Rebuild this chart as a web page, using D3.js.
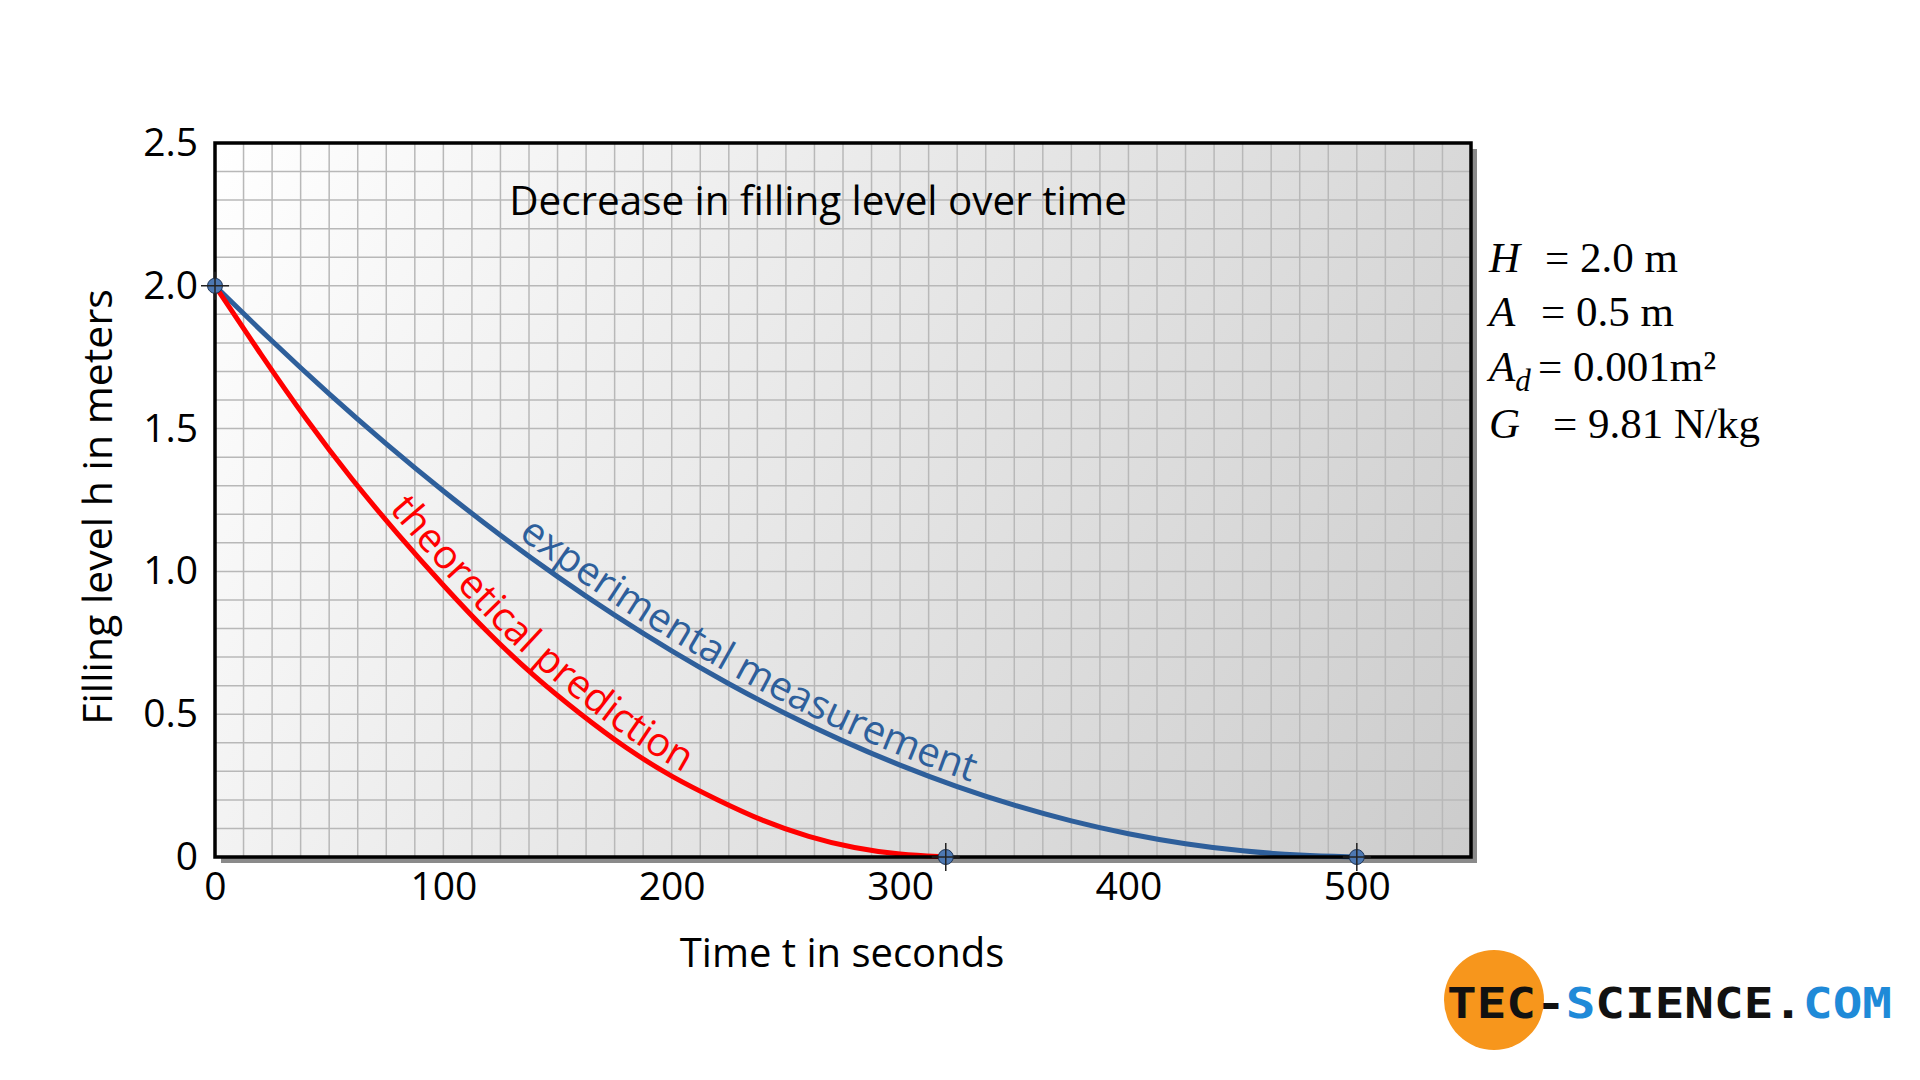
<!DOCTYPE html>
<html>
<head>
<meta charset="utf-8">
<script src="https://cdn.jsdelivr.net/npm/d3@7"></script>
<style>
  body { margin: 0; background: #fff; }
  svg { display: block; font-family: "Open Sans", sans-serif; }
</style>
</head>
<body>
<svg id="chart" width="1920" height="1080"></svg>
<script>
// values
const theoryTime = [0, 20, 40, 60, 80, 100, 120, 140, 160, 180, 200, 220, 240, 260, 280, 300, 320];
const theoryLevel = [2.0, 1.76, 1.53, 1.32, 1.13, 0.95, 0.78, 0.63, 0.5, 0.38, 0.28, 0.2, 0.125, 0.07, 0.03, 0.008, 0];

const measTime = [0, 25, 50, 75, 100, 125, 150, 175, 200, 225, 250, 275, 300, 325, 350, 375, 400, 425, 450, 475, 500];
const measLevel = [2.0, 1.805, 1.62, 1.445, 1.28, 1.125, 0.98, 0.845, 0.72, 0.605, 0.5, 0.405, 0.32, 0.245, 0.18, 0.125, 0.08, 0.045, 0.02, 0.005, 0];

const endTimes = [0, 320, 500];
const endLevels = [2.0, 0, 0];

const xTicks = [0, 100, 200, 300, 400, 500];
const yTicks = [0, 0.5, 1.0, 1.5, 2.0, 2.5];

const paramSymbols = ["H", "A", "A", "G"];
const paramSubs = ["", "", "d", ""];
const paramValues = ["= 2.0 m", "= 0.5 m", "= 0.001m²", "= 9.81 N/kg"];

const svg = d3.select("#chart");
const pLeft = 215, pRight = 1471, pTop = 143, pBottom = 857;

const x = d3.scaleLinear().domain([0, 550]).range([pLeft, pRight]);
const y = d3.scaleLinear().domain([0, 2.5]).range([pBottom, pTop]);

const defs = svg.append("defs");
const grad = defs.append("linearGradient")
  .attr("id", "bg")
  .attr("gradientUnits", "userSpaceOnUse")
  .attr("x1", pLeft).attr("y1", pTop)
  .attr("x2", pRight).attr("y2", pBottom);
grad.append("stop").attr("offset", 0).attr("stop-color", "#ffffff");
grad.append("stop").attr("offset", 1).attr("stop-color", "#cccccc");

// shadow + plot background
svg.append("rect")
  .attr("x", pLeft + 6).attr("y", pTop + 6)
  .attr("width", pRight - pLeft).attr("height", pBottom - pTop)
  .attr("fill", "#8a8a8a");
svg.append("rect")
  .attr("x", pLeft).attr("y", pTop)
  .attr("width", pRight - pLeft).attr("height", pBottom - pTop)
  .attr("fill", "url(#bg)");

// square grid
const grid = svg.append("g").attr("stroke", "#b8b8b8").attr("stroke-width", 1.5);
grid.selectAll("line.v")
  .data(d3.range(12.5, 550, 12.5))
  .join("line")
  .attr("class", "v")
  .attr("x1", d => x(d)).attr("x2", d => x(d))
  .attr("y1", pTop).attr("y2", pBottom);
grid.selectAll("line.h")
  .data(d3.range(1, 25).map(d => d / 10))
  .join("line")
  .attr("class", "h")
  .attr("y1", d => y(d)).attr("y2", d => y(d))
  .attr("x1", pLeft).attr("x2", pRight);

// curves
const line = d3.line()
  .x(d => x(d[0]))
  .y(d => y(d[1]))
  .curve(d3.curveBasis);

const theory = d3.zip(theoryTime, theoryLevel);
const meas = d3.zip(measTime, measLevel);

const measPath = svg.append("path")
  .attr("id", "measCurve")
  .attr("d", line(meas))
  .attr("fill", "none")
  .attr("stroke", "#2e5f9b")
  .attr("stroke-width", 5);

const theoryPath = svg.append("path")
  .attr("id", "theoryCurve")
  .attr("d", line(theory))
  .attr("fill", "none")
  .attr("stroke", "#ff0000")
  .attr("stroke-width", 5);

// frame
svg.append("rect")
  .attr("x", pLeft).attr("y", pTop)
  .attr("width", pRight - pLeft).attr("height", pBottom - pTop)
  .attr("fill", "none")
  .attr("stroke", "#000")
  .attr("stroke-width", 3.5);

// labels that follow the curves
function offsetAt(node, px) {
  const len = node.getTotalLength();
  for (let l = 0; l < len; l += 0.5) {
    if (node.getPointAtLength(l).x >= px) return l;
  }
  return 0;
}

svg.append("text")
  .attr("font-size", 40)
  .attr("fill", "#ff0000")
  .attr("dy", -9)
  .append("textPath")
  .attr("href", "#theoryCurve")
  .attr("startOffset", offsetAt(theoryPath.node(), x(73)))
  .text("theoretical prediction");

svg.append("text")
  .attr("font-size", 40)
  .attr("fill", "#2e5f9b")
  .attr("dy", -9)
  .append("textPath")
  .attr("href", "#measCurve")
  .attr("startOffset", offsetAt(measPath.node(), x(130)))
  .text("experimental measurement");

// end point markers
const marks = svg.append("g")
  .selectAll("g")
  .data(d3.zip(endTimes, endLevels))
  .join("g")
  .attr("transform", d => `translate(${x(d[0])},${y(d[1])})`);
marks.append("circle")
  .attr("r", 7.5)
  .attr("fill", "#4d78b2")
  .attr("stroke", "#1d3557")
  .attr("stroke-width", 1);
marks.append("path")
  .attr("d", "M-14,0H14M0,-14V14")
  .attr("stroke", "#222")
  .attr("stroke-width", 1.5);

// axes
const xAxis = svg.append("g")
  .attr("transform", `translate(0,${pBottom})`)
  .call(d3.axisBottom(x).tickValues(xTicks).tickSize(0));
xAxis.select(".domain").remove();
xAxis.selectAll("text")
  .attr("y", 43)
  .attr("dy", null)
  .attr("font-size", 39)
  .attr("font-family", "Open Sans")
  .attr("fill", "#000");

const yAxis = svg.append("g")
  .attr("transform", `translate(${pLeft},0)`)
  .call(d3.axisLeft(y).tickValues(yTicks).tickSize(0).tickPadding(17)
    .tickFormat(d => d === 0 ? "0" : d.toFixed(1)));
yAxis.select(".domain").remove();
yAxis.selectAll("text")
  .attr("font-size", 39)
  .attr("font-family", "Open Sans")
  .attr("fill", "#000");

// titles
svg.append("text")
  .attr("x", 818).attr("y", 215)
  .attr("text-anchor", "middle")
  .attr("font-size", 40.4)
  .text("Decrease in filling level over time");

svg.append("text")
  .attr("x", 842).attr("y", 967)
  .attr("text-anchor", "middle")
  .attr("font-size", 40)
  .text("Time t in seconds");

svg.append("text")
  .attr("transform", "translate(112,507) rotate(-90)")
  .attr("text-anchor", "middle")
  .attr("font-size", 41)
  .text("Filling level h in meters");

// parameters
const baselines = [272, 326, 381, 438];
const eqX = [1545, 1541, 1538, 1553];
const params = svg.append("g")
  .attr("font-family", "Liberation Serif, serif")
  .attr("font-size", 43)
  .attr("fill", "#000");
paramSymbols.forEach((s, i) => {
  const t = params.append("text")
    .attr("x", 1489).attr("y", baselines[i])
    .attr("font-style", "italic")
    .text(s);
  if (paramSubs[i]) {
    t.append("tspan")
      .attr("font-size", 31)
      .attr("dy", 10)
      .text(paramSubs[i]);
  }
  params.append("text")
    .attr("x", eqX[i]).attr("y", baselines[i])
    .text(paramValues[i]);
});

// logo
svg.append("circle")
  .attr("cx", 1494).attr("cy", 1000).attr("r", 50)
  .attr("fill", "#f7961c");
const logo = svg.append("text")
  .attr("x", 1447).attr("y", 1018)
  .attr("font-family", "DejaVu Sans Mono, monospace")
  .attr("font-weight", "bold")
  .attr("font-size", 42)
  .attr("textLength", 445)
  .attr("lengthAdjust", "spacingAndGlyphs");
logo.append("tspan").attr("fill", "#111").text("TEC-");
logo.append("tspan").attr("fill", "#1f8ad8").text("S");
logo.append("tspan").attr("fill", "#111").text("CIENCE.");
logo.append("tspan").attr("fill", "#1f8ad8").text("COM");
</script>
</body>
</html>
